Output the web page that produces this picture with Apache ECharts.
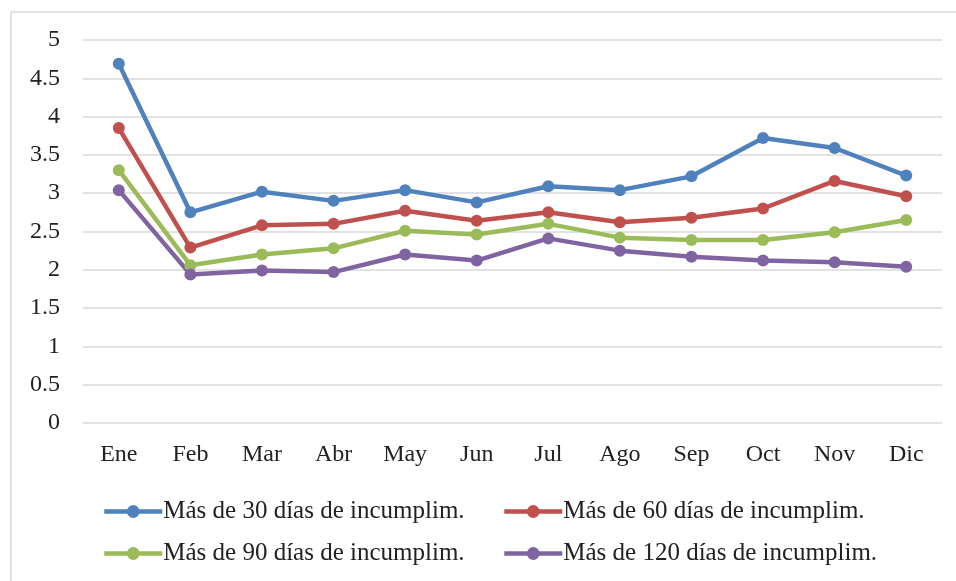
<!DOCTYPE html>
<html>
<head>
<meta charset="utf-8">
<script src="https://cdn.jsdelivr.net/npm/echarts@6/dist/echarts.min.js"></script>
<style>
  html, body { margin: 0; padding: 0; background: #fff; }
  #chart { width: 956px; height: 581px; }
</style>
</head>
<body>
<div id="chart"></div>
<script>
// datos
const months = ['Ene', 'Feb', 'Mar', 'Abr', 'May', 'Jun', 'Jul', 'Ago', 'Sep', 'Oct', 'Nov', 'Dic']
const mas30 = [4.69, 2.75, 3.02, 2.90, 3.04, 2.88, 3.09, 3.04, 3.22, 3.72, 3.59, 3.23]
const mas60 = [3.85, 2.29, 2.58, 2.60, 2.77, 2.64, 2.75, 2.62, 2.68, 2.80, 3.16, 2.96]
const mas90 = [3.30, 2.06, 2.20, 2.28, 2.51, 2.46, 2.60, 2.42, 2.39, 2.39, 2.49, 2.65]
const mas120 = [3.04, 1.94, 1.99, 1.97, 2.20, 2.12, 2.41, 2.25, 2.17, 2.12, 2.10, 2.04]

const names = [
  'Más de 30 días de incumplim.',
  'Más de 60 días de incumplim.',
  'Más de 90 días de incumplim.',
  'Más de 120 días de incumplim.'
]
const values = [mas30, mas60, mas90, mas120]
const colors = ['#4F81BD', '#C0504D', '#9BBB59', '#8064A2']

const font = '"Liberation Serif", "Times New Roman", serif'

const chart = echarts.init(document.getElementById('chart'))

// posiciones de la leyenda (2 filas x 2 columnas)
const legendPos = [[97, 494], [497, 494], [97, 536], [497, 536]]

chart.setOption({
  animation: false,
  graphic: [
    {
      type: 'rect',
      shape: { x: 11, y: 12, width: 960, height: 600 },
      style: { fill: 'none', stroke: '#d9d9d9', lineWidth: 1.5 },
      silent: true
    }
  ],
  grid: {
    left: 83,
    right: 14,
    top: 40,
    bottom: 158
  },
  legend: names.map((n, i) => ({
    data: [{ name: n, itemStyle: { color: colors[i] } }],
    left: legendPos[i][0],
    top: legendPos[i][1],
    itemWidth: 58,
    itemHeight: 16,
    itemGap: 0,
    lineStyle: { width: 4.5 },
    textStyle: { fontFamily: font, fontSize: 25, color: '#222', padding: [0, 0, 0, -4] }
  })),
  xAxis: {
    type: 'category',
    data: months,
    boundaryGap: true,
    axisLine: { show: false },
    axisTick: { show: false },
    axisLabel: {
      fontFamily: font,
      fontSize: 24,
      color: '#222',
      margin: 20
    }
  },
  yAxis: {
    type: 'value',
    min: 0,
    max: 5,
    interval: 0.5,
    axisLine: { show: false },
    axisTick: { show: false },
    axisLabel: {
      fontFamily: font,
      fontSize: 24,
      color: '#222',
      margin: 23
    },
    splitLine: { lineStyle: { color: '#d9d9d9', width: 1.5 } }
  },
  series: names.map((n, i) => ({
    name: n,
    type: 'line',
    data: values[i],
    symbol: 'circle',
    symbolSize: 12,
    lineStyle: { width: 4.5, color: colors[i] },
    itemStyle: { color: colors[i] }
  }))
})
</script>
</body>
</html>
